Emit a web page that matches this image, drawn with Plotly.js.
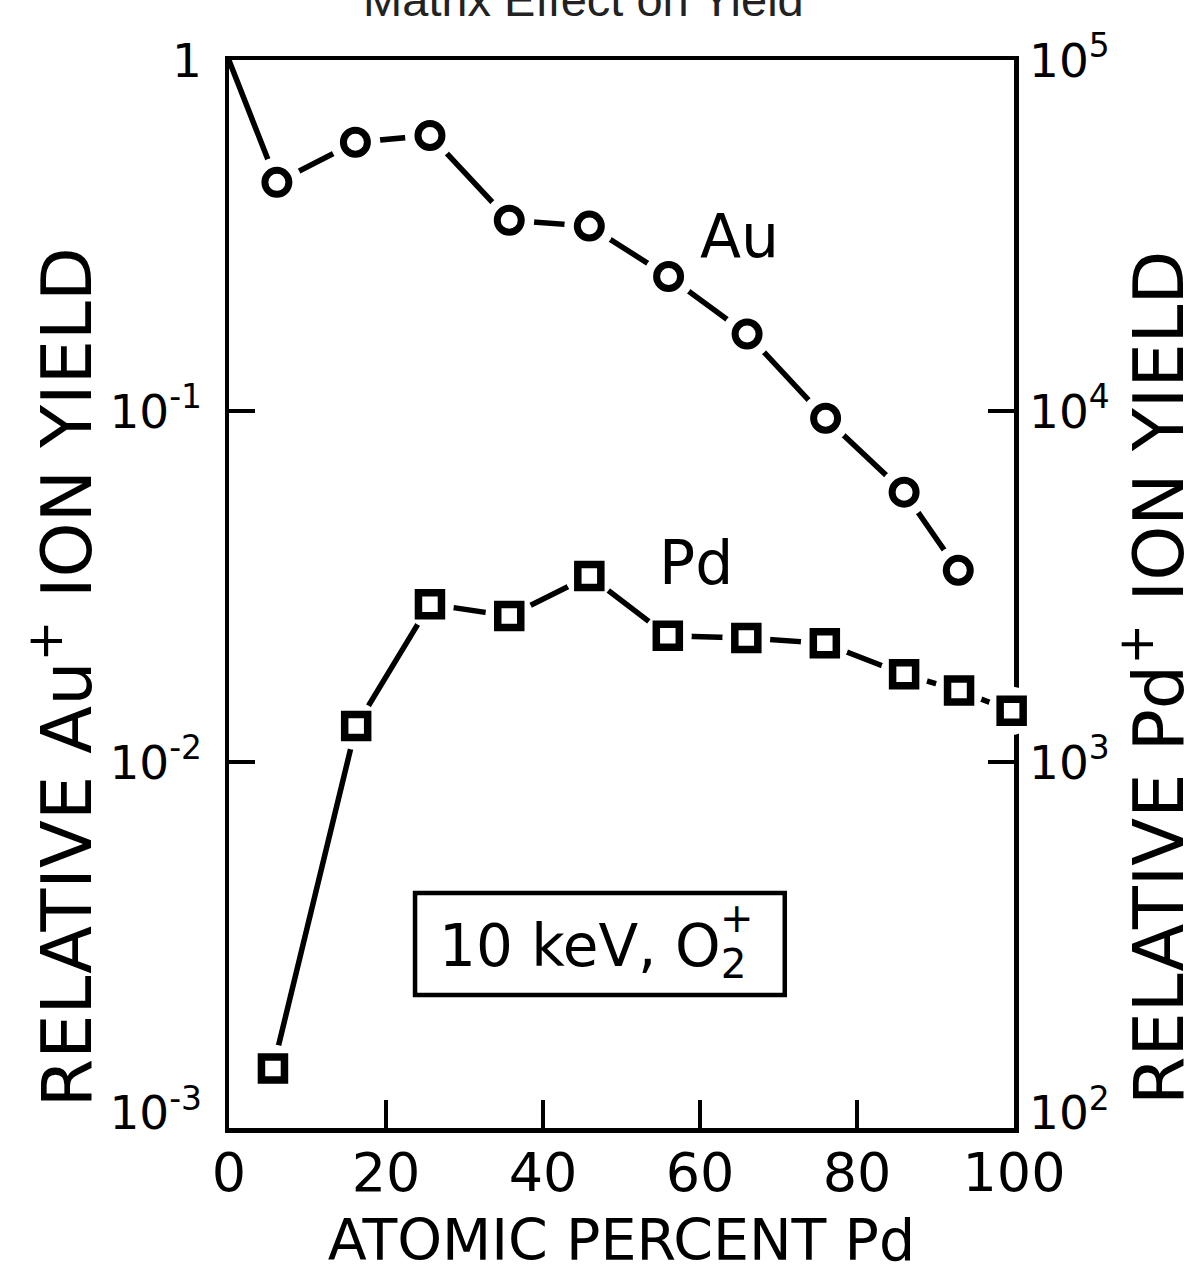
<!DOCTYPE html>
<html>
<head>
<meta charset="utf-8">
<script src="https://cdn.plot.ly/plotly-3.0.1.min.js"></script>
<style>
  html, body { margin: 0; padding: 0; background: #fff; }
  #chart { width: 1198px; height: 1273px; }
</style>
</head>
<body>
<div id="chart"></div>
<script>
// Composition of the Au-Pd alloy (atomic percent Pd)
const auPercentPd = [0, 6.1, 16.1, 25.6, 35.7, 45.9, 56.0, 66.0, 76.0, 86.0, 92.9];
// Relative Au+ secondary ion yield (left axis)
const auYield = [1, 0.449, 0.584, 0.611, 0.350, 0.337, 0.242, 0.166, 0.0955, 0.0588, 0.0352];

const pdPercentPd = [5.6, 16.2, 25.6, 35.7, 45.9, 55.9, 65.9, 75.9, 86.0, 93.0, 99.7];
// Relative Pd+ secondary ion yield (right axis)
const pdYield = [134, 1267, 2820, 2610, 3390, 2290, 2260, 2180, 1780, 1600, 1400];

const xTickVals = [0, 20, 40, 60, 80, 100];
const auTickVals = [1, 0.1, 0.01, 0.001];
const auTickText = ['1', '10<sup>-1</sup>', '10<sup>-2</sup>', '10<sup>-3</sup>'];
const auTickMarks = [0.1, 0.01];
const pdTickVals = [1e5, 1e4, 1e3, 1e2];
const pdTickText = ['10<sup>5</sup>', '10<sup>4</sup>', '10<sup>3</sup>', '10<sup>2</sup>'];
const pdTickMarks = [1e4, 1e3];

const INK = '#000';
const FONT = 'DejaVu Sans, Verdana, sans-serif';

// Left and right scales cover the same three decades, offset by 10^5
const auRange = [-3.0427, 0.001];
const pdRange = [auRange[0] + 5, auRange[1] + 5];

// the Au curve starts at the pure-Au reference point, which carries no symbol
const auMarked = auPercentPd.map((x, i) => i).filter(i => auPercentPd[i] > 0);
const auMX = auMarked.map(i => auPercentPd[i]);
const auMY = auMarked.map(i => auYield[i]);

const traces = [
  { // Au connecting line
    x: auPercentPd, y: auYield, yaxis: 'y', mode: 'lines',
    line: { color: INK, width: 5.5 }, hoverinfo: 'skip', showlegend: false
  },
  { // white clearance round each Au symbol
    x: auMX, y: auMY, yaxis: 'y', mode: 'markers',
    marker: { symbol: 'circle', size: 50, color: '#fff', line: { width: 0 } },
    hoverinfo: 'skip', showlegend: false, cliponaxis: false
  },
  { // Au symbols
    x: auMX, y: auMY, yaxis: 'y', mode: 'markers', name: 'Au',
    marker: { symbol: 'circle', size: 24, color: '#fff', line: { color: INK, width: 7 } },
    showlegend: false, cliponaxis: false
  },
  { // Pd connecting line
    x: pdPercentPd, y: pdYield, yaxis: 'y2', mode: 'lines',
    line: { color: INK, width: 5.5 }, hoverinfo: 'skip', showlegend: false
  },
  { // white clearance round each Pd symbol
    x: pdPercentPd, y: pdYield, yaxis: 'y2', mode: 'markers',
    marker: { symbol: 'circle', size: 48, color: '#fff', line: { width: 0 } },
    hoverinfo: 'skip', showlegend: false, cliponaxis: false
  },
  { // Pd symbols
    x: pdPercentPd, y: pdYield, yaxis: 'y2', mode: 'markers', name: 'Pd',
    marker: { symbol: 'square', size: 23, color: '#fff', line: { color: INK, width: 7.5 } },
    showlegend: false, cliponaxis: false
  },
  // the labelled scales carry the same series, fully transparent, so that they are laid out
  { x: auPercentPd, y: auYield, yaxis: 'y3', mode: 'markers',
    marker: { opacity: 0 }, hoverinfo: 'skip', showlegend: false },
  { x: pdPercentPd, y: pdYield, yaxis: 'y4', mode: 'markers',
    marker: { opacity: 0 }, hoverinfo: 'skip', showlegend: false }
];

const tickFont = { family: FONT, size: 47, color: INK };

const layout = {
  width: 1198, height: 1273,
  margin: { l: 229, r: 184, t: 60, b: 145 },
  paper_bgcolor: '#fff', plot_bgcolor: '#fff',
  font: { family: FONT, color: INK },
  showlegend: false,
  title: {
    text: 'Matrix Effect on Yield',
    font: { family: 'Liberation Sans, Arial, sans-serif', size: 47, color: '#222' },
    xref: 'container', x: 0.487, xanchor: 'center',
    yref: 'container', y: 1, yanchor: 'middle'
  },
  xaxis: {
    range: [0, 100], tickmode: 'array', tickvals: xTickVals,
    ticks: 'inside', ticklen: 28, tickwidth: 4, tickcolor: INK,
    showline: true, mirror: true, linecolor: INK, linewidth: 4.5,
    showgrid: false, zeroline: false, layer: 'below traces',
    tickfont: { family: FONT, size: 54, color: INK }, ticklabelstandoff: -6,
    title: { text: 'ATOMIC PERCENT Pd', font: { family: FONT, size: 57, color: INK }, standoff: 32 }
  },
  yaxis: { // Au scale: line and tick marks
    type: 'log', range: auRange, tickmode: 'array', tickvals: auTickMarks,
    ticks: 'inside', ticklen: 26, tickwidth: 4, tickcolor: INK,
    showticklabels: false, showline: true, linecolor: INK, linewidth: 4.5,
    showgrid: false, zeroline: false, layer: 'below traces'
  },
  yaxis2: { // Pd scale: line and tick marks
    type: 'log', range: pdRange, overlaying: 'y', side: 'right', anchor: 'x',
    tickmode: 'array', tickvals: pdTickMarks,
    ticks: 'inside', ticklen: 26, tickwidth: 4, tickcolor: INK,
    showticklabels: false, showline: true, linecolor: INK, linewidth: 4.5,
    showgrid: false, zeroline: false, layer: 'below traces'
  },
  yaxis3: { // Au scale labels
    type: 'log', range: auRange, overlaying: 'y', side: 'left', anchor: 'x',
    tickmode: 'array', tickvals: auTickVals, ticktext: auTickText,
    ticks: '', showline: false, showgrid: false, zeroline: false,
    tickfont: tickFont, ticklabelstandoff: 26
  },
  yaxis4: { // Pd scale labels
    type: 'log', range: pdRange, overlaying: 'y', side: 'right', anchor: 'x',
    tickmode: 'array', tickvals: pdTickVals, ticktext: pdTickText,
    ticks: '', showline: false, showgrid: false, zeroline: false,
    tickfont: tickFont, ticklabelstandoff: 14
  },
  shapes: [
    { type: 'rect', xref: 'paper', yref: 'paper', x0: 0.237, x1: 0.708, y0: 0.1245, y1: 0.220,
      line: { color: INK, width: 4.5 }, fillcolor: 'rgba(0,0,0,0)' }
  ],
  annotations: [
    { text: 'RELATIVE Au<sup>+</sup> ION YIELD', textangle: -90,
      xref: 'paper', yref: 'paper', x: -0.2127, y: 0.422, xanchor: 'center', yanchor: 'middle',
      showarrow: false, font: { family: FONT, size: 70, color: INK } },
    { text: 'RELATIVE Pd<sup>+</sup> ION YIELD', textangle: -90,
      xref: 'paper', yref: 'paper', x: 1.178, y: 0.422, xanchor: 'center', yanchor: 'middle',
      showarrow: false, font: { family: FONT, size: 70, color: INK } },
    { text: 'Au', xref: 'paper', yref: 'paper', x: 0.65, y: 0.835,
      xanchor: 'center', yanchor: 'middle', showarrow: false,
      font: { family: FONT, size: 60, color: INK } },
    { text: 'Pd', xref: 'paper', yref: 'paper', x: 0.595, y: 0.529,
      xanchor: 'center', yanchor: 'middle', showarrow: false,
      font: { family: FONT, size: 60, color: INK } },
    { text: '10 keV, O<sub>2</sub>', xref: 'paper', yref: 'paper', x: 0.661, y: 0.1667,
      xanchor: 'right', yanchor: 'middle', showarrow: false,
      font: { family: FONT, size: 58, color: INK } },
    { text: '+', xref: 'paper', yref: 'paper', x: 0.647, y: 0.1966,
      xanchor: 'center', yanchor: 'middle', showarrow: false,
      font: { family: FONT, size: 40, color: INK } }
  ]
};

Plotly.newPlot('chart', traces, layout, { displayModeBar: false, staticPlot: true });
</script>
</body>
</html>
